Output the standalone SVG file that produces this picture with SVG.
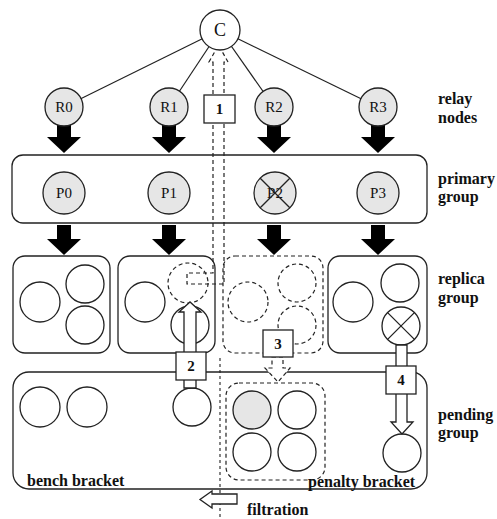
<svg xmlns="http://www.w3.org/2000/svg" width="497" height="519" viewBox="0 0 497 519">
  <style>
    .edge { stroke: #222; stroke-width: 1.2; fill: none; }
    .node { stroke: #222; stroke-width: 1.3; fill: #fff; }
    .relay { stroke: #222; stroke-width: 1.3; fill: #e6e6e6; }
    .dash { stroke: #222; stroke-width: 1.2; stroke-dasharray: 4 3; fill: none; }
    .dashw { stroke: #222; stroke-width: 1.2; stroke-dasharray: 4 3; fill: #fff; }
    .frame { stroke: #222; stroke-width: 1.3; fill: #fff; }
    .solid { fill: #000; }
    .hollow { stroke: #222; stroke-width: 1.3; fill: #fff; }
    .lbl { font-family: "Liberation Serif", "Times New Roman", serif; font-size: 15px; fill: #111; text-anchor: middle; }
    .num { font-family: "Liberation Serif", "Times New Roman", serif; font-size: 15px; font-weight: bold; fill: #111; text-anchor: middle; }
    .side { font-family: "Liberation Serif", "Times New Roman", serif; font-size: 16px; font-weight: bold; fill: #111; }
  </style>
  <defs>
    <!-- thick black down arrow, tip at (0,30) -->
    <polygon id="down" points="-7,0 7,0 7,14 17,14 0,30 -17,14 -7,14"/>
  </defs>

  <!-- group frames -->
  <g id="primary-group"><rect class="frame" x="12" y="155" width="415" height="68" rx="11"/></g>
  <g id="replica-a"><rect class="frame" x="13" y="256" width="97" height="97" rx="12"/></g>
  <g id="replica-b"><rect class="frame" x="118" y="256" width="97" height="97" rx="12"/></g>
  <g id="replica-c"><rect class="dashw" x="223" y="256" width="100" height="97" rx="12"/></g>
  <g id="replica-d"><rect class="frame" x="328" y="256" width="99" height="97" rx="12"/></g>
  <g id="pending-group"><rect class="frame" x="13" y="372" width="414" height="117" rx="16"/></g>
  <g id="penalty-box"><rect class="dashw" x="226" y="383" width="99" height="97" rx="13"/></g>

  <!-- connectors -->
  <g id="connectors">
    <line class="edge" x1="220" y1="30" x2="64" y2="107"/>
    <line class="edge" x1="220" y1="30" x2="169" y2="107"/>
    <line class="edge" x1="220" y1="30" x2="274" y2="107"/>
    <line class="edge" x1="220" y1="30" x2="378" y2="107"/>

    <use href="#down" class="solid" x="64" y="123"/>
    <use href="#down" class="solid" x="169" y="123"/>
    <use href="#down" class="solid" x="274" y="123"/>
    <use href="#down" class="solid" x="378" y="123"/>

    <use href="#down" class="solid" x="64" y="225"/>
    <use href="#down" class="solid" x="169" y="225"/>
    <use href="#down" class="solid" x="274" y="225"/>
    <use href="#down" class="solid" x="378" y="225"/>

    <!-- dashed return path from the replica up to C -->
    <path class="dash" d="M213,62 L213,273 L187,273 L187,284 L224,284 L224,62 L228,62 L218.5,45 L209,62 Z"/>

    <!-- filtration line -->
    <line stroke="#222" stroke-width="1.1" stroke-dasharray="3 3" x1="220" y1="358" x2="220" y2="519"/>
  </g>

  <!-- central node -->
  <g id="node-C">
    <circle class="node" cx="220" cy="30" r="20"/>
    <text class="lbl" x="220" y="36" style="font-size:18px">C</text>
  </g>

  <!-- relay nodes -->
  <g id="node-R0"><circle class="relay" cx="64" cy="107" r="19"/><text class="lbl" x="64" y="112">R0</text></g>
  <g id="node-R1"><circle class="relay" cx="169" cy="107" r="19"/><text class="lbl" x="169" y="112">R1</text></g>
  <g id="node-R2"><circle class="relay" cx="274" cy="107" r="19"/><text class="lbl" x="274" y="112">R2</text></g>
  <g id="node-R3"><circle class="relay" cx="378" cy="107" r="19"/><text class="lbl" x="378" y="112">R3</text></g>

  <!-- primary nodes -->
  <g id="node-P0"><circle class="relay" cx="64" cy="193" r="21"/><text class="lbl" x="64" y="198">P0</text></g>
  <g id="node-P1"><circle class="relay" cx="169" cy="193" r="21"/><text class="lbl" x="169" y="198">P1</text></g>
  <g id="node-P2">
    <circle class="relay" cx="275" cy="193" r="21" stroke-width="2"/>
    <text class="lbl" x="275" y="198">P2</text>
    <line stroke="#222" stroke-width="1.3" x1="260.2" y1="178.2" x2="289.8" y2="207.8"/>
    <line stroke="#222" stroke-width="1.3" x1="289.8" y1="178.2" x2="260.2" y2="207.8"/>
  </g>
  <g id="node-P3"><circle class="relay" cx="378" cy="193" r="21"/><text class="lbl" x="378" y="198">P3</text></g>

  <!-- replica members -->
  <g id="rep-a1"><circle class="node" cx="40" cy="302" r="20"/></g>
  <g id="rep-a2"><circle class="node" cx="85" cy="284" r="19"/></g>
  <g id="rep-a3"><circle class="node" cx="85" cy="325" r="19"/></g>
  <g id="rep-b1"><circle class="node" cx="145" cy="302" r="20"/></g>
  <g id="rep-b2"><circle class="dash" cx="188" cy="283" r="20"/></g>
  <g id="rep-b3"><circle class="node" cx="190" cy="325" r="19"/></g>
  <g id="rep-c1"><circle class="dash" cx="248" cy="302" r="20"/></g>
  <g id="rep-c2"><circle class="dash" cx="297" cy="283" r="19"/></g>
  <g id="rep-c3"><circle class="dash" cx="297" cy="325" r="19"/></g>
  <g id="rep-d1"><circle class="node" cx="353" cy="302" r="20"/></g>
  <g id="rep-d2"><circle class="node" cx="400" cy="283" r="19"/></g>
  <g id="rep-d3">
    <circle class="node" cx="401" cy="326" r="19"/>
    <line stroke="#222" stroke-width="1.3" x1="387.6" y1="312.6" x2="414.4" y2="339.4"/>
    <line stroke="#222" stroke-width="1.3" x1="414.4" y1="312.6" x2="387.6" y2="339.4"/>
  </g>

  <!-- pending members -->
  <g id="pend-1"><circle class="node" cx="40" cy="407" r="20"/></g>
  <g id="pend-2"><circle class="node" cx="87" cy="407" r="20"/></g>
  <g id="pend-3"><circle class="node" cx="192" cy="407" r="19"/></g>
  <g id="pen-1"><circle class="relay" cx="252" cy="410" r="19"/></g>
  <g id="pen-2"><circle class="node" cx="297" cy="410" r="19"/></g>
  <g id="pen-3"><circle class="node" cx="252" cy="452" r="19"/></g>
  <g id="pen-4"><circle class="node" cx="297" cy="452" r="19"/></g>
  <g id="pend-4"><circle class="node" cx="402" cy="453" r="19"/></g>

  <!-- hollow step arrows -->
  <g id="step-arrows">
    <polygon class="hollow" points="184,388 184,312 179,312 190,302 201,312 196,312 196,388"/>
    <polygon class="dashw" points="272,357 283,357 283,368 290,368 278,382 265,368 272,368"/>
    <polygon class="hollow" points="396,345 407,345 407,422 413,422 402,434 391,422 396,422"/>
    <polygon class="hollow" points="237,494 212,494 212,491 200,499.5 212,508 212,504 237,504"/>
  </g>

  <!-- step labels -->
  <g id="step-1"><rect class="frame" x="204" y="95" width="31" height="28"/><text class="num" x="219.5" y="114">1</text></g>
  <g id="step-2"><rect class="frame" x="176" y="352" width="30" height="28"/><text class="num" x="191" y="371">2</text></g>
  <g id="step-3"><rect class="frame" x="263" y="330" width="30" height="27"/><text class="num" x="278" y="349">3</text></g>
  <g id="step-4"><rect class="frame" x="386" y="366" width="30" height="28"/><text class="num" x="401" y="385">4</text></g>

  <!-- side labels -->
  <g id="labels">
    <text class="side" x="438" y="104">relay</text>
    <text class="side" x="438" y="123">nodes</text>
    <text class="side" x="438" y="184">primary</text>
    <text class="side" x="438" y="202">group</text>
    <text class="side" x="438" y="284">replica</text>
    <text class="side" x="438" y="303">group</text>
    <text class="side" x="438" y="420">pending</text>
    <text class="side" x="438" y="438">group</text>
    <text class="side" x="27" y="486">bench bracket</text>
    <text class="side" x="308" y="487">penalty bracket</text>
    <text class="side" x="247" y="515">filtration</text>
  </g>
</svg>
